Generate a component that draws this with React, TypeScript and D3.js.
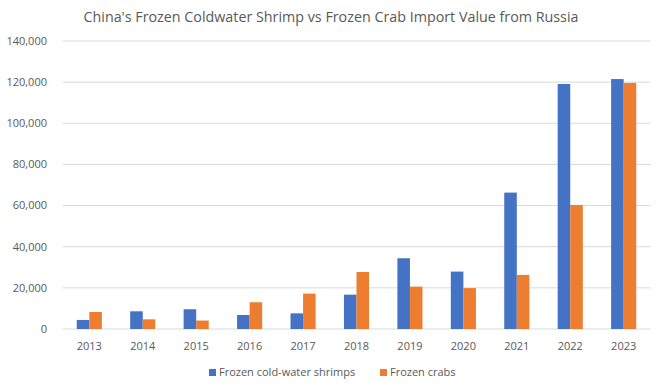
import * as d3 from 'd3';

// Data
const years = ['2013', '2014', '2015', '2016', '2017', '2018', '2019', '2020', '2021', '2022', '2023'];
const shrimps = [4400, 8600, 9600, 6800, 7600, 16700, 34400, 27900, 66300, 119100, 121500];
const crabs = [8300, 4700, 4100, 13000, 17200, 27700, 20600, 19900, 26300, 60300, 119600];
const yTicks = [0, 20000, 40000, 60000, 80000, 100000, 120000, 140000];

const seriesNames = ['Frozen cold-water shrimps', 'Frozen crabs'];
const colors = ['#4472C4', '#ED7D31'];

const W = 660;
const H = 389;
const margin = { top: 41, right: 10, bottom: 60, left: 62.6 };
const font = "'Open Sans', 'Noto Sans', sans-serif";

const App = () => {
  const x = d3.scaleBand()
    .domain(years)
    .range([margin.left, 650.4])
    .paddingInner(0.53)
    .paddingOuter(0.265);

  const inner = d3.scaleBand()
    .domain(['0', '1'])
    .range([0, x.bandwidth()]);

  const y = d3.scaleLinear()
    .domain([0, 140000])
    .range([329, margin.top]);

  const fmt = d3.format(',');

  return (
    <svg width={W} height={H} style={{ display: 'block', position: 'absolute', left: 0, top: 0, background: '#fff' }}>
      <text x={331} y={22} textAnchor="middle" fontFamily={font} fontSize={14.3} fill="#595959">
        China's Frozen Coldwater Shrimp vs Frozen Crab Import Value from Russia
      </text>

      {/* gridlines */}
      {yTicks.map(t => (
        <line key={t} x1={margin.left} x2={650.4} y1={y(t)} y2={y(t)} stroke="#d9d9d9" strokeWidth={1} />
      ))}

      {/* y labels */}
      {yTicks.map(t => (
        <text key={'l' + t} x={47} y={y(t)} dy="0.35em" textAnchor="end" fontFamily={font} fontSize={11} fill="#595959">
          {fmt(t)}
        </text>
      ))}

      {/* bars */}
      {years.map((yr, i) => (
        <g key={yr} transform={`translate(${x(yr)},0)`}>
          {[shrimps[i], crabs[i]].map((v, s) => (
            <rect key={s} x={inner(String(s))} y={y(v)} width={inner.bandwidth()} height={y(0) - y(v)} fill={colors[s]} />
          ))}
        </g>
      ))}

      {/* x labels */}
      {years.map(yr => (
        <text key={'x' + yr} x={(x(yr) as number) + x.bandwidth() / 2} y={350} textAnchor="middle" fontFamily={font} fontSize={11} fill="#595959">
          {yr}
        </text>
      ))}

      {/* legend */}
      <g>
        <rect x={209} y={369} width={7} height={7} fill={colors[0]} />
        <text x={219} y={376} fontFamily={font} fontSize={11} fill="#595959">{seriesNames[0]}</text>
        <rect x={380} y={369} width={7} height={7} fill={colors[1]} />
        <text x={390} y={376} fontFamily={font} fontSize={11} fill="#595959">{seriesNames[1]}</text>
      </g>
    </svg>
  );
};

export default App;
